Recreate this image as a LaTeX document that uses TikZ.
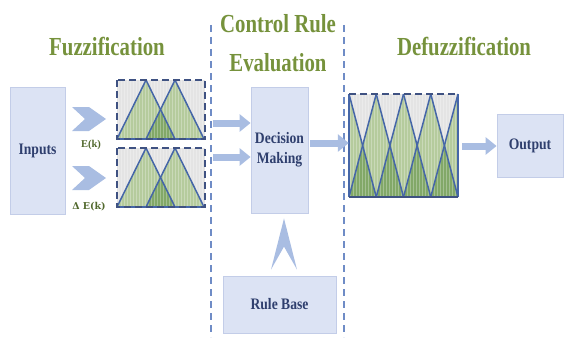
\documentclass[tikz,border=0pt]{standalone}
\usepackage{fontspec}
\setmainfont{Liberation Serif}
\newfontfamily\titlefont[FakeStretch=0.8]{Liberation Serif}
\newfontfamily\labelfont[FakeStretch=0.85]{Liberation Serif}
\usetikzlibrary{arrows.meta,calc}

\definecolor{titlegreen}{HTML}{76923C}
\definecolor{boxfill}{HTML}{DCE3F4}
\definecolor{boxline}{HTML}{C3CDE8}
\definecolor{boxtext}{HTML}{2F3F6E}
\definecolor{arrowblue}{HTML}{A9BDE2}
\definecolor{sepblue}{HTML}{6F8CC6}
\definecolor{stripebg}{HTML}{E4E4E4}
\definecolor{lightgreen}{HTML}{B5CB9D}
\definecolor{darkgreen}{HTML}{82A868}
\definecolor{triblue}{HTML}{4566A8}
\definecolor{framenavy}{HTML}{3F5282}
\definecolor{smallgreen}{HTML}{52692E}

\tikzset{
  blockbox/.style={draw=boxline, fill=boxfill, line width=0.8pt, inner sep=0pt,
    font=\labelfont\bfseries\fontsize{16}{20}\selectfont, text=boxtext, align=center},
  titletext/.style={font=\titlefont\bfseries\fontsize{26}{28}\selectfont, text=titlegreen, anchor=base},
  smalllabel/.style={font=\bfseries\fontsize{10.5}{11}\selectfont, text=smallgreen},
  blockarrow/.style={draw=arrowblue, line width=7pt,
    -{Triangle[width=17pt,length=11pt]}},
  chevron/.style={fill=arrowblue, draw=none},
  separator/.style={draw=sepblue, line width=1.4pt, dash pattern=on 7pt off 5pt},
  triline/.style={draw=triblue, line width=1.5pt, line join=round},
  framedash/.style={draw=framenavy, line width=1.6pt, dash pattern=on 7pt off 4pt},
  stripe/.style={draw=white, opacity=0.28, line width=0.7pt},
  framenode/.style={inner sep=0pt, draw=none}
}

% one membership-function panel of the fuzzifier (88 x 59)
\newcommand\fuzzypanel[1]{%
  \begin{scope}[shift={#1}]
    \fill[stripebg] (0,0) rectangle (88,59);
    \fill[lightgreen] (0,59) -- (29,0) -- (58,59) -- cycle;
    \fill[lightgreen] (29,59) -- (58,0) -- (87,59) -- cycle;
    \fill[darkgreen] (29,59) -- (43.5,29.5) -- (58,59) -- cycle;
    \foreach \sx in {1.5,4.5,...,87} \draw[stripe] (\sx,0) -- (\sx,59);
    \draw[triline] (0,59) -- (29,0) -- (58,59);
    \draw[triline] (29,59) -- (58,0) -- (87,59);
    \draw[triline] (0,59) -- (88,59);
    \draw[framedash] (0,0) rectangle (88,59);
  \end{scope}}

\begin{document}
\begin{tikzpicture}[x=1pt,y=-1pt]
\useasboundingbox (0,0) rectangle (564,337);

% section titles
\node[titletext] (t1) at (107,56) {Fuzzification};
\node[titletext] (t2) at (278,33) {Control Rule};
\node[titletext] (t3) at (278,71) {Evaluation};
\node[titletext] (t4) at (464,56) {Defuzzification};

% separators of the middle stage
\coordinate (s1a) at (211,25); \coordinate (s1b) at (211,337);
\coordinate (s2a) at (344,25); \coordinate (s2b) at (344,337);
\draw[separator] (s1a) -- (s1b);
\draw[separator] (s2a) -- (s2b);

% blocks
\node[blockbox, minimum width=55pt, minimum height=127pt] (in) at (37.5,150.5) {Inputs};
\node[blockbox, minimum width=57pt, minimum height=126pt] (dm) at (279.5,150) {Decision\\Making};
\node[blockbox, minimum width=113pt, minimum height=57pt] (rb) at (279.5,304.5) {Rule Base};
\node[blockbox, minimum width=66pt, minimum height=63pt] (out) at (530,145.5) {Output};

% input chevrons and their labels
\fill[chevron] (72,107) -- (89,107) -- (106,119) -- (89,131) -- (72,131) -- (85,119) -- cycle;
\fill[chevron] (72,166) -- (89,166) -- (106,178) -- (89,190) -- (72,190) -- (85,178) -- cycle;
\node[smalllabel] (e) at (91,145) {E(k)};
\node[smalllabel, font=\fontspec{DejaVu Serif}\bfseries\fontsize{9.5}{10}\selectfont] (de) at (89,207) {Δ E(k)};

% fuzzifier panels
\fuzzypanel{(117,80)}
\fuzzypanel{(117,148)}
\node[framenode, minimum width=88pt, minimum height=59pt] (fz1) at (161,109.5) {};
\node[framenode, minimum width=88pt, minimum height=59pt] (fz2) at (161,177.5) {};

% defuzzifier panel (109 x 103)
\begin{scope}[shift={(349,94)}]
  \fill[lightgreen] (0,0) rectangle (109,103);
  \foreach \i in {0,...,3}{
    \pgfmathsetmacro\xa{27.25*\i}
    \pgfmathsetmacro\xb{27.25*(\i+1)}
    \pgfmathsetmacro\xm{27.25*(\i+0.5)}
    \fill[stripebg] (\xa,0) -- (\xb,0) -- (\xm,51.5) -- cycle;
    \fill[darkgreen] (\xa,103) -- (\xb,103) -- (\xm,51.5) -- cycle;
  }
  \foreach \sx in {1.5,4.5,...,108} \draw[stripe] (\sx,0) -- (\sx,103);
  \foreach \i in {0,...,3}{
    \pgfmathsetmacro\xa{27.25*\i}
    \pgfmathsetmacro\xb{27.25*(\i+1)}
    \draw[triline] (\xa,0) -- (\xb,103);
    \draw[triline] (\xb,0) -- (\xa,103);
  }
  \draw[triline] (0,0) -- (0,103);
  \draw[triline] (109,0) -- (109,103);
  \draw[framedash] (0,0) -- (109,0);
  \draw[draw=framenavy, line width=2.6pt] (0,103) -- (109,103);
\end{scope}
\node[framenode, minimum width=109pt, minimum height=103pt] (dfz) at (403.5,145.5) {};

% block arrows between the stages
\coordinate (a1) at (213,123);
\coordinate (a2) at (213,157);
\draw[blockarrow] (a1) -- (dm.west |- a1);
\draw[blockarrow] (a2) -- (dm.west |- a2);
\coordinate (a3) at (310,143);
\draw[blockarrow] (a3) -- (dfz.west |- a3);
\coordinate (a4) at (462,146);
\draw[blockarrow] (a4) -- (out.west |- a4);

% rule base feeding the decision block
\fill[chevron] ($(dm.south)+(4.5,5)$) -- ($(rb.north)+(17.5,-6)$) -- ($(rb.north)+(4.5,-29)$)
  -- ($(rb.north)+(-8.5,-6)$) -- cycle;
\end{tikzpicture}
\end{document}
